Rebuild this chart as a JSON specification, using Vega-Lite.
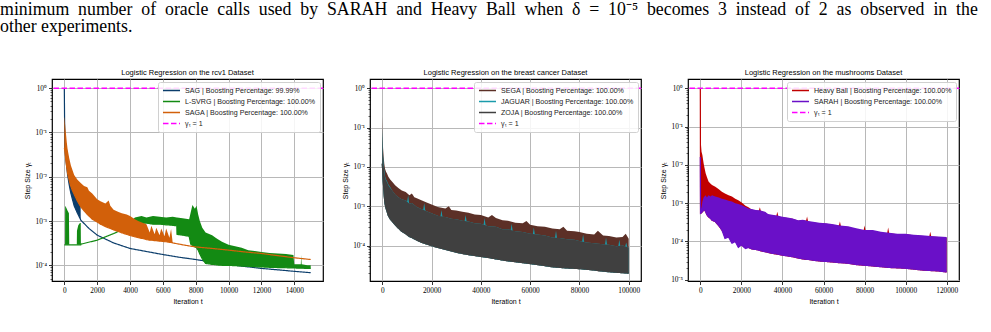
{
"$schema": "https://vega.github.io/schema/vega-lite/v6.json",
"background": "white",
"padding": {"left": 0, "top": 1, "right": 0, "bottom": 0},
"autosize": {"type": "pad"},
"title": {"text": ["minimum \u00a0number \u00a0of \u00a0oracle \u00a0calls \u00a0used \u00a0by \u00a0SARAH \u00a0and \u00a0Heavy \u00a0Ball \u00a0when \u00a0δ \u00a0= \u00a010⁻⁵ \u00a0becomes \u00a03 \u00a0instead \u00a0of \u00a02 \u00a0as \u00a0observed \u00a0in \u00a0the", "other experiments."], "anchor": "start", "frame": "bounds", "font": "Liberation Serif", "fontSize": 17.8, "lineHeight": 17, "fontWeight": "normal", "color": "#000", "offset": 32, "dx": -23},
"spacing": 16,
"resolve": {"scale": {"stroke": "independent", "strokeDash": "independent"}, "legend": {"stroke": "independent", "strokeDash": "independent"}},
"datasets": {
"p1": [
{"s":"SAG","t":0,"lo":1,"hi":1},{"s":"SAG","t":30,"lo":0.05,"hi":0.3},{"s":"SAG","t":60,"lo":0.035,"hi":0.08},{"s":"SAG","t":100,"lo":0.024,"hi":0.06},{"s":"SAG","t":200,"lo":0.011,"hi":0.035},{"s":"SAG","t":300,"lo":0.0065,"hi":0.02},{"s":"SAG","t":400,"lo":0.0042,"hi":0.014},{"s":"SAG","t":600,"lo":0.0022,"hi":0.008},{"s":"SAG","t":800,"lo":0.0015,"hi":0.005},{"s":"SAG","t":990,"lo":0.00108,"hi":0.0035},{"s":"SAG","t":1000,"lo":0.00105,"hi":0.00105},{"s":"SAG","t":1500,"lo":0.00068,"hi":0.00068},{"s":"SAG","t":2000,"lo":0.00048,"hi":0.00048},{"s":"SAG","t":3000,"lo":0.00032,"hi":0.00032},{"s":"SAG","t":4000,"lo":0.00024,"hi":0.00024},{"s":"SAG","t":5000,"lo":0.000205,"hi":0.000205},{"s":"SAG","t":6000,"lo":0.000175,"hi":0.000175},{"s":"SAG","t":7000,"lo":0.000152,"hi":0.000152},{"s":"SAG","t":8000,"lo":0.000135,"hi":0.000135},{"s":"SAG","t":9000,"lo":0.000118,"hi":0.000118},{"s":"SAG","t":10000,"lo":0.000104,"hi":0.000104},{"s":"SAG","t":11000,"lo":0.000094,"hi":0.000094},{"s":"SAG","t":12000,"lo":0.000085,"hi":0.000085},{"s":"SAG","t":13000,"lo":0.000079,"hi":0.000079},{"s":"SAG","t":14000,"lo":0.000073,"hi":0.000073},{"s":"SAG","t":15000,"lo":0.000068,"hi":0.000068},
{"s":"L-SVRG","t":0,"lo":0.00029,"hi":0.00029},{"s":"L-SVRG","t":45,"lo":0.00029,"hi":0.00029},{"s":"L-SVRG","t":50,"lo":0.00029,"hi":0.0022},{"s":"L-SVRG","t":120,"lo":0.00029,"hi":0.002},{"s":"L-SVRG","t":200,"lo":0.00029,"hi":0.0017},{"s":"L-SVRG","t":280,"lo":0.00029,"hi":0.0015},{"s":"L-SVRG","t":300,"lo":0.00029,"hi":0.00029},{"s":"L-SVRG","t":760,"lo":0.00029,"hi":0.00029},{"s":"L-SVRG","t":770,"lo":0.00029,"hi":0.0006},{"s":"L-SVRG","t":850,"lo":0.00029,"hi":0.0008},{"s":"L-SVRG","t":950,"lo":0.00029,"hi":0.0009},{"s":"L-SVRG","t":1000,"lo":0.00029,"hi":0.0009},{"s":"L-SVRG","t":1010,"lo":0.0003,"hi":0.0003},{"s":"L-SVRG","t":2000,"lo":0.00037,"hi":0.00037},{"s":"L-SVRG","t":3000,"lo":0.00052,"hi":0.00052},{"s":"L-SVRG","t":3700,"lo":0.00068,"hi":0.0007},{"s":"L-SVRG","t":4000,"lo":0.00078,"hi":0.00095},{"s":"L-SVRG","t":4300,"lo":0.00085,"hi":0.0012},{"s":"L-SVRG","t":4700,"lo":0.00088,"hi":0.0013},{"s":"L-SVRG","t":5000,"lo":0.0009,"hi":0.0012},{"s":"L-SVRG","t":5400,"lo":0.00085,"hi":0.0013},{"s":"L-SVRG","t":5800,"lo":0.00085,"hi":0.00125},{"s":"L-SVRG","t":6200,"lo":0.00082,"hi":0.0012},{"s":"L-SVRG","t":6600,"lo":0.0008,"hi":0.00125},{"s":"L-SVRG","t":6850,"lo":0.00078,"hi":0.0012},{"s":"L-SVRG","t":6860,"lo":0.0005,"hi":0.0012},{"s":"L-SVRG","t":7200,"lo":0.00048,"hi":0.00115},{"s":"L-SVRG","t":7600,"lo":0.00045,"hi":0.0011},{"s":"L-SVRG","t":7700,"lo":0.0003,"hi":0.0016},{"s":"L-SVRG","t":7800,"lo":0.00028,"hi":0.0023},{"s":"L-SVRG","t":7950,"lo":0.00026,"hi":0.0019},{"s":"L-SVRG","t":8050,"lo":0.00025,"hi":0.0022},{"s":"L-SVRG","t":8150,"lo":0.00022,"hi":0.0014},{"s":"L-SVRG","t":8250,"lo":0.00018,"hi":0.001},{"s":"L-SVRG","t":8400,"lo":0.00014,"hi":0.0007},{"s":"L-SVRG","t":8600,"lo":0.00011,"hi":0.00055},{"s":"L-SVRG","t":9000,"lo":0.000105,"hi":0.00048},{"s":"L-SVRG","t":9300,"lo":0.000102,"hi":0.0004},{"s":"L-SVRG","t":9600,"lo":0.0001,"hi":0.00034},{"s":"L-SVRG","t":10000,"lo":0.0001,"hi":0.00029},{"s":"L-SVRG","t":10400,"lo":0.000098,"hi":0.00027},{"s":"L-SVRG","t":10800,"lo":0.000096,"hi":0.00025},{"s":"L-SVRG","t":11200,"lo":0.000095,"hi":0.00022},{"s":"L-SVRG","t":11600,"lo":0.000093,"hi":0.00021},{"s":"L-SVRG","t":12000,"lo":0.000092,"hi":0.0002},{"s":"L-SVRG","t":12500,"lo":0.00009,"hi":0.00019},{"s":"L-SVRG","t":13000,"lo":0.000089,"hi":0.000185},{"s":"L-SVRG","t":13500,"lo":0.000088,"hi":0.00018},{"s":"L-SVRG","t":13950,"lo":0.000087,"hi":0.00017},{"s":"L-SVRG","t":14000,"lo":0.000087,"hi":0.000105},{"s":"L-SVRG","t":14400,"lo":0.000086,"hi":0.000105},{"s":"L-SVRG","t":14420,"lo":0.000086,"hi":0.00017},{"s":"L-SVRG","t":14450,"lo":0.000086,"hi":0.000105},{"s":"L-SVRG","t":14800,"lo":0.000085,"hi":0.0001},{"s":"L-SVRG","t":15000,"lo":0.000085,"hi":0.0001},
{"s":"SAGA","t":0,"lo":0.045,"hi":0.23},{"s":"SAGA","t":20,"lo":0.042,"hi":0.2},{"s":"SAGA","t":60,"lo":0.03,"hi":0.13},{"s":"SAGA","t":100,"lo":0.022,"hi":0.095},{"s":"SAGA","t":150,"lo":0.016,"hi":0.06},{"s":"SAGA","t":200,"lo":0.012,"hi":0.042},{"s":"SAGA","t":300,"lo":0.0082,"hi":0.026},{"s":"SAGA","t":400,"lo":0.006,"hi":0.018},{"s":"SAGA","t":500,"lo":0.0048,"hi":0.014},{"s":"SAGA","t":600,"lo":0.004,"hi":0.011},{"s":"SAGA","t":800,"lo":0.0028,"hi":0.0085},{"s":"SAGA","t":1000,"lo":0.0021,"hi":0.0072},{"s":"SAGA","t":1200,"lo":0.0017,"hi":0.0062},{"s":"SAGA","t":1400,"lo":0.0014,"hi":0.0058},{"s":"SAGA","t":1500,"lo":0.0013,"hi":0.0048},{"s":"SAGA","t":1700,"lo":0.0011,"hi":0.0042},{"s":"SAGA","t":2000,"lo":0.00095,"hi":0.0031},{"s":"SAGA","t":2200,"lo":0.00085,"hi":0.0028},{"s":"SAGA","t":2500,"lo":0.00075,"hi":0.0025},{"s":"SAGA","t":2700,"lo":0.0007,"hi":0.0029},{"s":"SAGA","t":2800,"lo":0.00068,"hi":0.0022},{"s":"SAGA","t":3000,"lo":0.00063,"hi":0.0018},{"s":"SAGA","t":3300,"lo":0.00058,"hi":0.0016},{"s":"SAGA","t":3500,"lo":0.00054,"hi":0.0015},{"s":"SAGA","t":3800,"lo":0.0005,"hi":0.0014},{"s":"SAGA","t":4000,"lo":0.00047,"hi":0.0013},{"s":"SAGA","t":4300,"lo":0.00044,"hi":0.0011},{"s":"SAGA","t":4500,"lo":0.00042,"hi":0.001},{"s":"SAGA","t":4800,"lo":0.0004,"hi":0.0009},{"s":"SAGA","t":5000,"lo":0.00038,"hi":0.00085},{"s":"SAGA","t":5200,"lo":0.00037,"hi":0.00055},{"s":"SAGA","t":5300,"lo":0.00037,"hi":0.00078},{"s":"SAGA","t":5500,"lo":0.00036,"hi":0.0005},{"s":"SAGA","t":5600,"lo":0.00036,"hi":0.0007},{"s":"SAGA","t":5800,"lo":0.00035,"hi":0.00048},{"s":"SAGA","t":5900,"lo":0.00035,"hi":0.00068},{"s":"SAGA","t":6100,"lo":0.00034,"hi":0.00045},{"s":"SAGA","t":6200,"lo":0.00034,"hi":0.00068},{"s":"SAGA","t":6400,"lo":0.00033,"hi":0.00042},{"s":"SAGA","t":6500,"lo":0.00033,"hi":0.00066},{"s":"SAGA","t":6600,"lo":0.00032,"hi":0.00032},{"s":"SAGA","t":7000,"lo":0.0003,"hi":0.0003},{"s":"SAGA","t":7500,"lo":0.000278,"hi":0.000278},{"s":"SAGA","t":8000,"lo":0.00026,"hi":0.00026},{"s":"SAGA","t":9000,"lo":0.00024,"hi":0.00024},{"s":"SAGA","t":10000,"lo":0.00022,"hi":0.00022},{"s":"SAGA","t":11000,"lo":0.0002,"hi":0.0002},{"s":"SAGA","t":12000,"lo":0.000185,"hi":0.000185},{"s":"SAGA","t":13000,"lo":0.000165,"hi":0.000165},{"s":"SAGA","t":14000,"lo":0.000148,"hi":0.000148},{"s":"SAGA","t":15000,"lo":0.000135,"hi":0.000135}
],
"p2": [
{"s":"SEGA","t":0,"lo":0.012,"hi":0.19},{"s":"SEGA","t":150,"lo":0.008,"hi":0.07},{"s":"SEGA","t":300,"lo":0.005,"hi":0.03},{"s":"SEGA","t":550,"lo":0.0031,"hi":0.018},{"s":"SEGA","t":800,"lo":0.0018,"hi":0.012},{"s":"SEGA","t":1100,"lo":0.00117,"hi":0.009},{"s":"SEGA","t":1500,"lo":0.0009,"hi":0.0075},{"s":"SEGA","t":1900,"lo":0.00075,"hi":0.0068},{"s":"SEGA","t":2450,"lo":0.00058,"hi":0.0056},{"s":"SEGA","t":3200,"lo":0.00048,"hi":0.0048},{"s":"SEGA","t":4000,"lo":0.00042,"hi":0.0042},{"s":"SEGA","t":5200,"lo":0.00034,"hi":0.0034},{"s":"SEGA","t":6500,"lo":0.00028,"hi":0.0029},{"s":"SEGA","t":7900,"lo":0.00023,"hi":0.0025},{"s":"SEGA","t":9500,"lo":0.0002,"hi":0.0023},{"s":"SEGA","t":11000,"lo":0.00017,"hi":0.0019},{"s":"SEGA","t":12000,"lo":0.00016,"hi":0.0021},{"s":"SEGA","t":13000,"lo":0.00015,"hi":0.0017},{"s":"SEGA","t":14000,"lo":0.000138,"hi":0.0016},{"s":"SEGA","t":16100,"lo":0.00012,"hi":0.0014},{"s":"SEGA","t":18000,"lo":0.00011,"hi":0.00125},{"s":"SEGA","t":20000,"lo":0.0001,"hi":0.0011},{"s":"SEGA","t":22500,"lo":0.00009,"hi":0.00095},{"s":"SEGA","t":25600,"lo":0.00008,"hi":0.00088},{"s":"SEGA","t":27000,"lo":0.000076,"hi":0.001},{"s":"SEGA","t":28000,"lo":0.000073,"hi":0.0008},{"s":"SEGA","t":30000,"lo":0.000068,"hi":0.00078},{"s":"SEGA","t":32500,"lo":0.000063,"hi":0.00072},{"s":"SEGA","t":35000,"lo":0.000059,"hi":0.00068},{"s":"SEGA","t":37500,"lo":0.000056,"hi":0.00062},{"s":"SEGA","t":40000,"lo":0.000053,"hi":0.0006},{"s":"SEGA","t":43000,"lo":0.00005,"hi":0.00052},{"s":"SEGA","t":44500,"lo":0.000048,"hi":0.0006},{"s":"SEGA","t":46100,"lo":0.000046,"hi":0.0005},{"s":"SEGA","t":48800,"lo":0.000043,"hi":0.00044},{"s":"SEGA","t":51000,"lo":0.000041,"hi":0.00043},{"s":"SEGA","t":54000,"lo":0.000039,"hi":0.00038},{"s":"SEGA","t":57000,"lo":0.000037,"hi":0.00037},{"s":"SEGA","t":58500,"lo":0.000036,"hi":0.00042},{"s":"SEGA","t":60000,"lo":0.000035,"hi":0.00034},{"s":"SEGA","t":63000,"lo":0.000033,"hi":0.00031},{"s":"SEGA","t":66000,"lo":0.000031,"hi":0.0003},{"s":"SEGA","t":69000,"lo":0.000029,"hi":0.00027},{"s":"SEGA","t":72000,"lo":0.000028,"hi":0.00026},{"s":"SEGA","t":73500,"lo":0.0000275,"hi":0.0003},{"s":"SEGA","t":75000,"lo":0.000027,"hi":0.00024},{"s":"SEGA","t":78000,"lo":0.0000265,"hi":0.00023},{"s":"SEGA","t":80000,"lo":0.000026,"hi":0.00022},{"s":"SEGA","t":83000,"lo":0.000025,"hi":0.0002},{"s":"SEGA","t":86000,"lo":0.000024,"hi":0.00019},{"s":"SEGA","t":87500,"lo":0.000023,"hi":0.00024},{"s":"SEGA","t":89600,"lo":0.0000225,"hi":0.00018},{"s":"SEGA","t":92000,"lo":0.0000218,"hi":0.000175},{"s":"SEGA","t":95000,"lo":0.000021,"hi":0.00016},{"s":"SEGA","t":97500,"lo":0.0000205,"hi":0.000165},{"s":"SEGA","t":98800,"lo":0.0000202,"hi":0.0002},{"s":"SEGA","t":100000,"lo":0.00002,"hi":0.00015},
{"s":"JAGUAR","t":0,"lo":0.012,"hi":0.1},{"s":"JAGUAR","t":150,"lo":0.008,"hi":0.045},{"s":"JAGUAR","t":300,"lo":0.005,"hi":0.02},{"s":"JAGUAR","t":550,"lo":0.0031,"hi":0.012},{"s":"JAGUAR","t":800,"lo":0.0018,"hi":0.0085},{"s":"JAGUAR","t":1100,"lo":0.00117,"hi":0.0058},{"s":"JAGUAR","t":1500,"lo":0.0009,"hi":0.0048},{"s":"JAGUAR","t":1900,"lo":0.00075,"hi":0.0044},{"s":"JAGUAR","t":2450,"lo":0.00058,"hi":0.0036},{"s":"JAGUAR","t":3200,"lo":0.00048,"hi":0.0031},{"s":"JAGUAR","t":4000,"lo":0.00042,"hi":0.0025},{"s":"JAGUAR","t":5200,"lo":0.00034,"hi":0.002},{"s":"JAGUAR","t":6500,"lo":0.00028,"hi":0.0017},{"s":"JAGUAR","t":7900,"lo":0.00023,"hi":0.0015},{"s":"JAGUAR","t":9500,"lo":0.0002,"hi":0.0014},{"s":"JAGUAR","t":10100,"lo":0.00019,"hi":0.00133},{"s":"JAGUAR","t":10500,"lo":0.00018,"hi":0.0019},{"s":"JAGUAR","t":10900,"lo":0.00017,"hi":0.00118},{"s":"JAGUAR","t":11000,"lo":0.00017,"hi":0.00115},{"s":"JAGUAR","t":12000,"lo":0.00016,"hi":0.0012},{"s":"JAGUAR","t":14000,"lo":0.000138,"hi":0.00096},{"s":"JAGUAR","t":16100,"lo":0.00012,"hi":0.00084},{"s":"JAGUAR","t":16600,"lo":0.000118,"hi":0.00082},{"s":"JAGUAR","t":17000,"lo":0.000115,"hi":0.0012},{"s":"JAGUAR","t":17400,"lo":0.000113,"hi":0.00079},{"s":"JAGUAR","t":18000,"lo":0.00011,"hi":0.00075},{"s":"JAGUAR","t":20000,"lo":0.0001,"hi":0.00066},{"s":"JAGUAR","t":22500,"lo":0.00009,"hi":0.00057},{"s":"JAGUAR","t":23600,"lo":0.000087,"hi":0.00055},{"s":"JAGUAR","t":24000,"lo":0.000085,"hi":0.0008},{"s":"JAGUAR","t":24400,"lo":0.000084,"hi":0.00054},{"s":"JAGUAR","t":25600,"lo":0.00008,"hi":0.00053},{"s":"JAGUAR","t":28000,"lo":0.000073,"hi":0.00048},{"s":"JAGUAR","t":30000,"lo":0.000068,"hi":0.00047},{"s":"JAGUAR","t":32500,"lo":0.000063,"hi":0.00043},{"s":"JAGUAR","t":33400,"lo":0.000062,"hi":0.00042},{"s":"JAGUAR","t":33800,"lo":0.000061,"hi":0.0006},{"s":"JAGUAR","t":34200,"lo":0.00006,"hi":0.00042},{"s":"JAGUAR","t":35000,"lo":0.000059,"hi":0.00041},{"s":"JAGUAR","t":37500,"lo":0.000056,"hi":0.00037},{"s":"JAGUAR","t":40000,"lo":0.000053,"hi":0.00036},{"s":"JAGUAR","t":41100,"lo":0.000052,"hi":0.00034},{"s":"JAGUAR","t":41500,"lo":0.000051,"hi":0.0005},{"s":"JAGUAR","t":41900,"lo":0.000051,"hi":0.00033},{"s":"JAGUAR","t":43000,"lo":0.00005,"hi":0.00031},{"s":"JAGUAR","t":46100,"lo":0.000046,"hi":0.0003},{"s":"JAGUAR","t":48800,"lo":0.000043,"hi":0.00026},{"s":"JAGUAR","t":51000,"lo":0.000041,"hi":0.00026},{"s":"JAGUAR","t":52100,"lo":0.00004,"hi":0.00025},{"s":"JAGUAR","t":52500,"lo":0.00004,"hi":0.00036},{"s":"JAGUAR","t":52900,"lo":0.00004,"hi":0.00024},{"s":"JAGUAR","t":54000,"lo":0.000039,"hi":0.00023},{"s":"JAGUAR","t":57000,"lo":0.000037,"hi":0.00022},{"s":"JAGUAR","t":60000,"lo":0.000035,"hi":0.0002},{"s":"JAGUAR","t":61100,"lo":0.000034,"hi":0.000197},{"s":"JAGUAR","t":61500,"lo":0.000034,"hi":0.00029},{"s":"JAGUAR","t":61900,"lo":0.000034,"hi":0.000193},{"s":"JAGUAR","t":63000,"lo":0.000033,"hi":0.00019},{"s":"JAGUAR","t":66000,"lo":0.000031,"hi":0.00018},{"s":"JAGUAR","t":69000,"lo":0.000029,"hi":0.00016},{"s":"JAGUAR","t":70100,"lo":0.0000287,"hi":0.000158},{"s":"JAGUAR","t":70500,"lo":0.0000285,"hi":0.00024},{"s":"JAGUAR","t":70900,"lo":0.0000283,"hi":0.000157},{"s":"JAGUAR","t":72000,"lo":0.000028,"hi":0.000155},{"s":"JAGUAR","t":75000,"lo":0.000027,"hi":0.000145},{"s":"JAGUAR","t":78000,"lo":0.0000265,"hi":0.00014},{"s":"JAGUAR","t":80000,"lo":0.000026,"hi":0.00013},{"s":"JAGUAR","t":81100,"lo":0.0000257,"hi":0.000127},{"s":"JAGUAR","t":81500,"lo":0.0000255,"hi":0.00019},{"s":"JAGUAR","t":81900,"lo":0.0000253,"hi":0.000125},{"s":"JAGUAR","t":83000,"lo":0.000025,"hi":0.00012},{"s":"JAGUAR","t":86000,"lo":0.000024,"hi":0.000115},{"s":"JAGUAR","t":89600,"lo":0.0000225,"hi":0.000108},{"s":"JAGUAR","t":90400,"lo":0.0000222,"hi":0.000107},{"s":"JAGUAR","t":90800,"lo":0.000022,"hi":0.00016},{"s":"JAGUAR","t":91200,"lo":0.0000219,"hi":0.000106},{"s":"JAGUAR","t":92000,"lo":0.0000218,"hi":0.000105},{"s":"JAGUAR","t":95000,"lo":0.000021,"hi":0.000096},{"s":"JAGUAR","t":95800,"lo":0.0000209,"hi":0.000097},{"s":"JAGUAR","t":96200,"lo":0.0000208,"hi":0.00014},{"s":"JAGUAR","t":96600,"lo":0.0000207,"hi":0.000098},{"s":"JAGUAR","t":97500,"lo":0.0000205,"hi":0.0001},{"s":"JAGUAR","t":98600,"lo":0.0000203,"hi":0.000096},{"s":"JAGUAR","t":99000,"lo":0.0000202,"hi":0.00012},{"s":"JAGUAR","t":99400,"lo":0.0000201,"hi":0.000093},{"s":"JAGUAR","t":100000,"lo":0.00002,"hi":0.00009},
{"s":"ZOJA","t":0,"lo":0.012,"hi":0.06},{"s":"ZOJA","t":150,"lo":0.008,"hi":0.035},{"s":"ZOJA","t":300,"lo":0.005,"hi":0.016},{"s":"ZOJA","t":550,"lo":0.0031,"hi":0.0105},{"s":"ZOJA","t":800,"lo":0.0018,"hi":0.0072},{"s":"ZOJA","t":1100,"lo":0.00117,"hi":0.0054},{"s":"ZOJA","t":1500,"lo":0.0009,"hi":0.0045},{"s":"ZOJA","t":1900,"lo":0.00075,"hi":0.0041},{"s":"ZOJA","t":2450,"lo":0.00058,"hi":0.0034},{"s":"ZOJA","t":3200,"lo":0.00048,"hi":0.0029},{"s":"ZOJA","t":4000,"lo":0.00042,"hi":0.0025},{"s":"ZOJA","t":5200,"lo":0.00034,"hi":0.002},{"s":"ZOJA","t":6500,"lo":0.00028,"hi":0.0017},{"s":"ZOJA","t":7900,"lo":0.00023,"hi":0.0015},{"s":"ZOJA","t":9500,"lo":0.0002,"hi":0.0014},{"s":"ZOJA","t":11000,"lo":0.00017,"hi":0.00115},{"s":"ZOJA","t":12000,"lo":0.00016,"hi":0.0012},{"s":"ZOJA","t":14000,"lo":0.000138,"hi":0.00096},{"s":"ZOJA","t":16100,"lo":0.00012,"hi":0.00084},{"s":"ZOJA","t":18000,"lo":0.00011,"hi":0.00075},{"s":"ZOJA","t":20000,"lo":0.0001,"hi":0.00066},{"s":"ZOJA","t":22500,"lo":0.00009,"hi":0.00057},{"s":"ZOJA","t":25600,"lo":0.00008,"hi":0.00053},{"s":"ZOJA","t":28000,"lo":0.000073,"hi":0.00048},{"s":"ZOJA","t":30000,"lo":0.000068,"hi":0.00047},{"s":"ZOJA","t":32500,"lo":0.000063,"hi":0.00043},{"s":"ZOJA","t":35000,"lo":0.000059,"hi":0.00041},{"s":"ZOJA","t":37500,"lo":0.000056,"hi":0.00037},{"s":"ZOJA","t":40000,"lo":0.000053,"hi":0.00036},{"s":"ZOJA","t":43000,"lo":0.00005,"hi":0.00031},{"s":"ZOJA","t":46100,"lo":0.000046,"hi":0.0003},{"s":"ZOJA","t":48800,"lo":0.000043,"hi":0.00026},{"s":"ZOJA","t":51000,"lo":0.000041,"hi":0.00026},{"s":"ZOJA","t":54000,"lo":0.000039,"hi":0.00023},{"s":"ZOJA","t":57000,"lo":0.000037,"hi":0.00022},{"s":"ZOJA","t":60000,"lo":0.000035,"hi":0.0002},{"s":"ZOJA","t":63000,"lo":0.000033,"hi":0.00019},{"s":"ZOJA","t":66000,"lo":0.000031,"hi":0.00018},{"s":"ZOJA","t":69000,"lo":0.000029,"hi":0.00016},{"s":"ZOJA","t":72000,"lo":0.000028,"hi":0.000155},{"s":"ZOJA","t":75000,"lo":0.000027,"hi":0.000145},{"s":"ZOJA","t":78000,"lo":0.0000265,"hi":0.00014},{"s":"ZOJA","t":80000,"lo":0.000026,"hi":0.00013},{"s":"ZOJA","t":83000,"lo":0.000025,"hi":0.00012},{"s":"ZOJA","t":86000,"lo":0.000024,"hi":0.000115},{"s":"ZOJA","t":89600,"lo":0.0000225,"hi":0.000108},{"s":"ZOJA","t":92000,"lo":0.0000218,"hi":0.000105},{"s":"ZOJA","t":95000,"lo":0.000021,"hi":0.000096},{"s":"ZOJA","t":97500,"lo":0.0000205,"hi":0.0001},{"s":"ZOJA","t":100000,"lo":0.00002,"hi":0.00009}
],
"p3": [
{"s":"Heavy Ball","t":0,"lo":1,"hi":1},{"s":"Heavy Ball","t":100,"lo":0.00055,"hi":0.1},{"s":"Heavy Ball","t":300,"lo":0.00055,"hi":0.035},{"s":"Heavy Ball","t":600,"lo":0.00056,"hi":0.022},{"s":"Heavy Ball","t":1000,"lo":0.0006,"hi":0.018},{"s":"Heavy Ball","t":1600,"lo":0.00065,"hi":0.011},{"s":"Heavy Ball","t":2000,"lo":0.00068,"hi":0.0085},{"s":"Heavy Ball","t":2600,"lo":0.0006,"hi":0.006},{"s":"Heavy Ball","t":3200,"lo":0.0005,"hi":0.0048},{"s":"Heavy Ball","t":4000,"lo":0.00044,"hi":0.0037},{"s":"Heavy Ball","t":5000,"lo":0.0004,"hi":0.0032},{"s":"Heavy Ball","t":5700,"lo":0.00036,"hi":0.003},{"s":"Heavy Ball","t":7300,"lo":0.00033,"hi":0.0027},{"s":"Heavy Ball","t":9000,"lo":0.00026,"hi":0.0023},{"s":"Heavy Ball","t":10500,"lo":0.0002,"hi":0.002},{"s":"Heavy Ball","t":12000,"lo":0.00015,"hi":0.0018},{"s":"Heavy Ball","t":13760,"lo":0.00013,"hi":0.0016},{"s":"Heavy Ball","t":15400,"lo":0.00011,"hi":0.0015},{"s":"Heavy Ball","t":17000,"lo":0.0001,"hi":0.0013},{"s":"Heavy Ball","t":18500,"lo":0.00009,"hi":0.0012},{"s":"Heavy Ball","t":20000,"lo":0.000081,"hi":0.00105},{"s":"Heavy Ball","t":22000,"lo":0.00007,"hi":0.00085},{"s":"Heavy Ball","t":23460,"lo":0.00007,"hi":0.00078},{"s":"Heavy Ball","t":25000,"lo":0.000064,"hi":0.00068},{"s":"Heavy Ball","t":27000,"lo":0.000062,"hi":0.00064},{"s":"Heavy Ball","t":28500,"lo":0.00006,"hi":0.00063},{"s":"Heavy Ball","t":29000,"lo":0.000058,"hi":0.00078},{"s":"Heavy Ball","t":29500,"lo":0.000057,"hi":0.00062},{"s":"Heavy Ball","t":31550,"lo":0.000054,"hi":0.00058},{"s":"Heavy Ball","t":33000,"lo":0.000052,"hi":0.0005},{"s":"Heavy Ball","t":35000,"lo":0.000049,"hi":0.00048},{"s":"Heavy Ball","t":37000,"lo":0.000047,"hi":0.00046},{"s":"Heavy Ball","t":37500,"lo":0.000047,"hi":0.0006},{"s":"Heavy Ball","t":38000,"lo":0.000046,"hi":0.00045},{"s":"Heavy Ball","t":40000,"lo":0.000044,"hi":0.00043},{"s":"Heavy Ball","t":42500,"lo":0.000042,"hi":0.00041},{"s":"Heavy Ball","t":45000,"lo":0.00004,"hi":0.00039},{"s":"Heavy Ball","t":47700,"lo":0.000037,"hi":0.00035},{"s":"Heavy Ball","t":50000,"lo":0.000035,"hi":0.00036},{"s":"Heavy Ball","t":51500,"lo":0.000034,"hi":0.00035},{"s":"Heavy Ball","t":52000,"lo":0.000034,"hi":0.00045},{"s":"Heavy Ball","t":52500,"lo":0.000034,"hi":0.00033},{"s":"Heavy Ball","t":55800,"lo":0.000032,"hi":0.00031},{"s":"Heavy Ball","t":58000,"lo":0.000031,"hi":0.0003},{"s":"Heavy Ball","t":61500,"lo":0.00003,"hi":0.00029},{"s":"Heavy Ball","t":65000,"lo":0.000029,"hi":0.00027},{"s":"Heavy Ball","t":67500,"lo":0.000028,"hi":0.00026},{"s":"Heavy Ball","t":68000,"lo":0.000028,"hi":0.00033},{"s":"Heavy Ball","t":68500,"lo":0.000028,"hi":0.00025},{"s":"Heavy Ball","t":72000,"lo":0.000027,"hi":0.00024},{"s":"Heavy Ball","t":76000,"lo":0.000025,"hi":0.00021},{"s":"Heavy Ball","t":79500,"lo":0.000024,"hi":0.00019},{"s":"Heavy Ball","t":80000,"lo":0.000024,"hi":0.00026},{"s":"Heavy Ball","t":80500,"lo":0.000024,"hi":0.00019},{"s":"Heavy Ball","t":84000,"lo":0.000023,"hi":0.00019},{"s":"Heavy Ball","t":88000,"lo":0.000022,"hi":0.00017},{"s":"Heavy Ball","t":91000,"lo":0.0000212,"hi":0.000165},{"s":"Heavy Ball","t":91500,"lo":0.0000211,"hi":0.00023},{"s":"Heavy Ball","t":92000,"lo":0.000021,"hi":0.000165},{"s":"Heavy Ball","t":96000,"lo":0.0000205,"hi":0.000155},{"s":"Heavy Ball","t":100000,"lo":0.00002,"hi":0.000155},{"s":"Heavy Ball","t":104000,"lo":0.000019,"hi":0.000145},{"s":"Heavy Ball","t":108000,"lo":0.000018,"hi":0.00014},{"s":"Heavy Ball","t":111500,"lo":0.0000176,"hi":0.000135},{"s":"Heavy Ball","t":112000,"lo":0.0000175,"hi":0.00018},{"s":"Heavy Ball","t":112500,"lo":0.0000174,"hi":0.000135},{"s":"Heavy Ball","t":116000,"lo":0.000017,"hi":0.00013},{"s":"Heavy Ball","t":120000,"lo":0.000016,"hi":0.000125},
{"s":"SARAH","t":0,"lo":0.016,"hi":0.016},{"s":"SARAH","t":100,"lo":0.00054,"hi":0.0006},{"s":"SARAH","t":300,"lo":0.00055,"hi":0.0007},{"s":"SARAH","t":600,"lo":0.00056,"hi":0.0008},{"s":"SARAH","t":1000,"lo":0.0006,"hi":0.0011},{"s":"SARAH","t":1600,"lo":0.00065,"hi":0.0014},{"s":"SARAH","t":2000,"lo":0.00068,"hi":0.0015},{"s":"SARAH","t":2600,"lo":0.0006,"hi":0.0016},{"s":"SARAH","t":3200,"lo":0.0005,"hi":0.0014},{"s":"SARAH","t":4000,"lo":0.00044,"hi":0.0016},{"s":"SARAH","t":5000,"lo":0.0004,"hi":0.0015},{"s":"SARAH","t":5700,"lo":0.00036,"hi":0.0016},{"s":"SARAH","t":7300,"lo":0.00033,"hi":0.0015},{"s":"SARAH","t":9000,"lo":0.00026,"hi":0.0014},{"s":"SARAH","t":10500,"lo":0.0002,"hi":0.0013},{"s":"SARAH","t":12000,"lo":0.00012,"hi":0.00125},{"s":"SARAH","t":13760,"lo":0.00013,"hi":0.00115},{"s":"SARAH","t":15400,"lo":0.00009,"hi":0.0011},{"s":"SARAH","t":17000,"lo":0.0001,"hi":0.001},{"s":"SARAH","t":18500,"lo":0.00007,"hi":0.00095},{"s":"SARAH","t":20000,"lo":0.000081,"hi":0.0009},{"s":"SARAH","t":22000,"lo":0.000065,"hi":0.0008},{"s":"SARAH","t":23460,"lo":0.00007,"hi":0.00073},{"s":"SARAH","t":25000,"lo":0.000064,"hi":0.0007},{"s":"SARAH","t":27000,"lo":0.000062,"hi":0.00066},{"s":"SARAH","t":29000,"lo":0.000058,"hi":0.00065},{"s":"SARAH","t":31550,"lo":0.000054,"hi":0.0006},{"s":"SARAH","t":33000,"lo":0.000052,"hi":0.00052},{"s":"SARAH","t":35000,"lo":0.000049,"hi":0.0005},{"s":"SARAH","t":37500,"lo":0.000047,"hi":0.00048},{"s":"SARAH","t":40000,"lo":0.000044,"hi":0.00044},{"s":"SARAH","t":42500,"lo":0.000042,"hi":0.00042},{"s":"SARAH","t":45000,"lo":0.00004,"hi":0.0004},{"s":"SARAH","t":47700,"lo":0.000037,"hi":0.00036},{"s":"SARAH","t":50000,"lo":0.000035,"hi":0.00037},{"s":"SARAH","t":52500,"lo":0.000034,"hi":0.00034},{"s":"SARAH","t":55800,"lo":0.000032,"hi":0.00032},{"s":"SARAH","t":58000,"lo":0.000031,"hi":0.00031},{"s":"SARAH","t":61500,"lo":0.00003,"hi":0.0003},{"s":"SARAH","t":65000,"lo":0.000029,"hi":0.00028},{"s":"SARAH","t":68000,"lo":0.000028,"hi":0.00026},{"s":"SARAH","t":72000,"lo":0.000027,"hi":0.00025},{"s":"SARAH","t":76000,"lo":0.000025,"hi":0.00022},{"s":"SARAH","t":80000,"lo":0.000024,"hi":0.0002},{"s":"SARAH","t":84000,"lo":0.000023,"hi":0.0002},{"s":"SARAH","t":88000,"lo":0.000022,"hi":0.00018},{"s":"SARAH","t":92000,"lo":0.000021,"hi":0.00017},{"s":"SARAH","t":96000,"lo":0.0000205,"hi":0.00016},{"s":"SARAH","t":100000,"lo":0.00002,"hi":0.00016},{"s":"SARAH","t":104000,"lo":0.000019,"hi":0.00015},{"s":"SARAH","t":108000,"lo":0.000018,"hi":0.000145},{"s":"SARAH","t":112000,"lo":0.0000175,"hi":0.00014},{"s":"SARAH","t":116000,"lo":0.000017,"hi":0.000135},{"s":"SARAH","t":120000,"lo":0.000016,"hi":0.00013}
],
"g": [{"s":"γₜ = 1","v":1}]
},
"hconcat": [
{
"width": 271, "height": 202,
"title": "Logistic Regression on the rcv1 Dataset",
"data": {"name": "p1"},
"resolve": {"axis": {"y": "independent"}},
"layer": [
{"transform":[{"filter":"datum.s=='SAG'"}],"mark":{"type":"area","color":"#0b3d6b"},
 "encoding":{
  "x":{"field":"t","type":"quantitative","scale":{"domain":[-750,15750],"nice":false,"zero":false},"axis":{"values":[0,2000,4000,6000,8000,10000,12000,14000],"tickCount":100,"format":"d","title":"Iteration t"}},
  "y":{"field":"lo","type":"quantitative","scale":{"type":"log","domain":[0.0000442,1.61],"nice":false},"axis":{"values":[1,0.1,0.01,0.001,0.0001],"tickCount":100,"labelExpr":"'10' + (datum.value < 0.9 ? '⁻' : '') + ['⁰','¹','²','³','⁴','⁵'][round(-log(datum.value)/LN10)]","title":"Step Size γₜ","orient":"left"}},
  "y2":{"field":"hi"}}},
{"transform":[{"filter":"datum.s=='SAG'"}],"mark":{"type":"line","strokeWidth":1.2},
 "encoding":{"x":{"field":"t","type":"quantitative"},"y":{"field":"lo","type":"quantitative","axis":null},
  "stroke":{"field":"s","type":"nominal","scale":{"domain":["SAG","L-SVRG","SAGA","γₜ = 1"],"range":["#0b3d6b","#138a13","#d2600a","#ff00ff"]},"legend":{"orient":"top-right","offset":3,"title":null,"labelExpr":"datum.label == 'γₜ = 1' ? datum.label : datum.label + ' | Boosting Percentage: ' + (datum.label == 'SAG' ? '99.99%' : '100.00%')"}},
  "strokeDash":{"field":"s","type":"nominal","scale":{"domain":["SAG","L-SVRG","SAGA","γₜ = 1"],"range":[[1,0],[1,0],[1,0],[5.5,2.5]]},"legend":{"orient":"top-right","offset":3,"title":null,"labelExpr":"datum.label == 'γₜ = 1' ? datum.label : datum.label + ' | Boosting Percentage: ' + (datum.label == 'SAG' ? '99.99%' : '100.00%')"}}}},
{"transform":[{"filter":"datum.s=='L-SVRG'"}],"mark":{"type":"area","color":"#138a13"},
 "encoding":{"x":{"field":"t","type":"quantitative"},"y":{"field":"lo","type":"quantitative","axis":null},"y2":{"field":"hi"}}},
{"transform":[{"filter":"datum.s=='L-SVRG'"}],"mark":{"type":"line","strokeWidth":1.2},
 "encoding":{"x":{"field":"t","type":"quantitative"},"y":{"field":"lo","type":"quantitative","axis":null},"stroke":{"field":"s","type":"nominal"},"strokeDash":{"field":"s","type":"nominal"}}},
{"transform":[{"filter":"datum.s=='SAGA'"}],"mark":{"type":"area","color":"#d2600a"},
 "encoding":{"x":{"field":"t","type":"quantitative"},"y":{"field":"lo","type":"quantitative","axis":null},"y2":{"field":"hi"}}},
{"transform":[{"filter":"datum.s=='SAGA'"}],"mark":{"type":"line","strokeWidth":1.2},
 "encoding":{"x":{"field":"t","type":"quantitative"},"y":{"field":"lo","type":"quantitative","axis":null},"stroke":{"field":"s","type":"nominal"},"strokeDash":{"field":"s","type":"nominal"}}},
{"data":{"name":"g"},"mark":{"type":"rule","strokeWidth":1.5},
 "encoding":{"y":{"field":"v","type":"quantitative","axis":{"orient":"left","tickCount":100,"values":[0.00005,0.00006,0.00007,0.00008,0.00009,0.0002,0.0003,0.0004,0.0005,0.0006,0.0007,0.0008,0.0009,0.002,0.003,0.004,0.005,0.006,0.007,0.008,0.009,0.02,0.03,0.04,0.05,0.06,0.07,0.08,0.09,0.2,0.3,0.4,0.5,0.6,0.7,0.8,0.9],"labels":false,"grid":false,"domain":false,"tickSize":2,"tickWidth":0.6,"title":null}},"stroke":{"field":"s","type":"nominal"},"strokeDash":{"field":"s","type":"nominal"}}}
]
},
{
"width": 271, "height": 202,
"title": "Logistic Regression on the breast cancer Dataset",
"data": {"name": "p2"},
"resolve": {"axis": {"y": "independent"}},
"layer": [
{"transform":[{"filter":"datum.s=='SEGA'"}],"mark":{"type":"area","color":"#5c3027"},
 "encoding":{
  "x":{"field":"t","type":"quantitative","scale":{"domain":[-5000,105000],"nice":false,"zero":false},"axis":{"values":[0,20000,40000,60000,80000,100000],"tickCount":100,"format":"d","title":"Iteration t"}},
  "y":{"field":"lo","type":"quantitative","scale":{"type":"log","domain":[0.0000126,1.71],"nice":false},"axis":{"values":[1,0.1,0.01,0.001,0.0001],"tickCount":100,"labelExpr":"'10' + (datum.value < 0.9 ? '⁻' : '') + ['⁰','¹','²','³','⁴','⁵'][round(-log(datum.value)/LN10)]","title":"Step Size γₜ","orient":"left"}},
  "y2":{"field":"hi"}}},
{"transform":[{"filter":"datum.s=='SEGA'"}],"mark":{"type":"line","strokeWidth":1.2},
 "encoding":{"x":{"field":"t","type":"quantitative"},"y":{"field":"lo","type":"quantitative","axis":null},
  "stroke":{"field":"s","type":"nominal","scale":{"domain":["SEGA","JAGUAR","ZOJA","γₜ = 1"],"range":["#5c3027","#1a9bab","#404040","#ff00ff"]},"legend":{"orient":"top-right","offset":3,"title":null,"labelExpr":"datum.label == 'γₜ = 1' ? datum.label : datum.label + ' | Boosting Percentage: 100.00%'"}},
  "strokeDash":{"field":"s","type":"nominal","scale":{"domain":["SEGA","JAGUAR","ZOJA","γₜ = 1"],"range":[[1,0],[1,0],[1,0],[5.5,2.5]]},"legend":{"orient":"top-right","offset":3,"title":null,"labelExpr":"datum.label == 'γₜ = 1' ? datum.label : datum.label + ' | Boosting Percentage: 100.00%'"}}}},
{"transform":[{"filter":"datum.s=='JAGUAR'"}],"mark":{"type":"area","color":"#1a9bab"},
 "encoding":{"x":{"field":"t","type":"quantitative"},"y":{"field":"lo","type":"quantitative","axis":null},"y2":{"field":"hi"}}},
{"transform":[{"filter":"datum.s=='JAGUAR'"}],"mark":{"type":"line","strokeWidth":1.2},
 "encoding":{"x":{"field":"t","type":"quantitative"},"y":{"field":"lo","type":"quantitative","axis":null},"stroke":{"field":"s","type":"nominal"},"strokeDash":{"field":"s","type":"nominal"}}},
{"transform":[{"filter":"datum.s=='ZOJA'"}],"mark":{"type":"area","color":"#404040"},
 "encoding":{"x":{"field":"t","type":"quantitative"},"y":{"field":"lo","type":"quantitative","axis":null},"y2":{"field":"hi"}}},
{"transform":[{"filter":"datum.s=='ZOJA'"}],"mark":{"type":"line","strokeWidth":1.2},
 "encoding":{"x":{"field":"t","type":"quantitative"},"y":{"field":"lo","type":"quantitative","axis":null},"stroke":{"field":"s","type":"nominal"},"strokeDash":{"field":"s","type":"nominal"}}},
{"data":{"name":"g"},"mark":{"type":"rule","strokeWidth":1.5},
 "encoding":{"y":{"field":"v","type":"quantitative","axis":{"orient":"left","tickCount":100,"values":[0.00002,0.00003,0.00004,0.00005,0.00006,0.00007,0.00008,0.00009,0.0002,0.0003,0.0004,0.0005,0.0006,0.0007,0.0008,0.0009,0.002,0.003,0.004,0.005,0.006,0.007,0.008,0.009,0.02,0.03,0.04,0.05,0.06,0.07,0.08,0.09,0.2,0.3,0.4,0.5,0.6,0.7,0.8,0.9],"labels":false,"grid":false,"domain":false,"tickSize":2,"tickWidth":0.6,"title":null}},"stroke":{"field":"s","type":"nominal"},"strokeDash":{"field":"s","type":"nominal"}}}
]
},
{
"width": 271, "height": 202,
"title": "Logistic Regression on the mushrooms Dataset",
"data": {"name": "p3"},
"resolve": {"axis": {"y": "independent"}},
"layer": [
{"transform":[{"filter":"datum.s=='Heavy Ball'"}],"mark":{"type":"area","color":"#c00000"},
 "encoding":{
  "x":{"field":"t","type":"quantitative","scale":{"domain":[-6000,126000],"nice":false,"zero":false},"axis":{"values":[0,20000,40000,60000,80000,100000,120000],"tickCount":100,"format":"d","title":"Iteration t"}},
  "y":{"field":"lo","type":"quantitative","scale":{"type":"log","domain":[0.0000093,1.74],"nice":false},"axis":{"values":[1,0.1,0.01,0.001,0.0001,0.00001],"tickCount":100,"labelExpr":"'10' + (datum.value < 0.9 ? '⁻' : '') + ['⁰','¹','²','³','⁴','⁵'][round(-log(datum.value)/LN10)]","title":"Step Size γₜ","orient":"left"}},
  "y2":{"field":"hi"}}},
{"transform":[{"filter":"datum.s=='Heavy Ball'"}],"mark":{"type":"line","strokeWidth":1.2},
 "encoding":{"x":{"field":"t","type":"quantitative"},"y":{"field":"lo","type":"quantitative","axis":null},
  "stroke":{"field":"s","type":"nominal","scale":{"domain":["Heavy Ball","SARAH","γₜ = 1"],"range":["#c00000","#6a10c8","#ff00ff"]},"legend":{"orient":"top-right","offset":3,"title":null,"labelExpr":"datum.label == 'γₜ = 1' ? datum.label : datum.label + ' | Boosting Percentage: 100.00%'"}},
  "strokeDash":{"field":"s","type":"nominal","scale":{"domain":["Heavy Ball","SARAH","γₜ = 1"],"range":[[1,0],[1,0],[5.5,2.5]]},"legend":{"orient":"top-right","offset":3,"title":null,"labelExpr":"datum.label == 'γₜ = 1' ? datum.label : datum.label + ' | Boosting Percentage: 100.00%'"}}}},
{"transform":[{"filter":"datum.s=='SARAH'"}],"mark":{"type":"area","color":"#6a10c8"},
 "encoding":{"x":{"field":"t","type":"quantitative"},"y":{"field":"lo","type":"quantitative","axis":null},"y2":{"field":"hi"}}},
{"transform":[{"filter":"datum.s=='SARAH'"}],"mark":{"type":"line","strokeWidth":1.2},
 "encoding":{"x":{"field":"t","type":"quantitative"},"y":{"field":"lo","type":"quantitative","axis":null},"stroke":{"field":"s","type":"nominal"},"strokeDash":{"field":"s","type":"nominal"}}},
{"data":{"name":"g"},"mark":{"type":"rule","strokeWidth":1.5},
 "encoding":{"y":{"field":"v","type":"quantitative","axis":{"orient":"left","tickCount":100,"values":[0.00002,0.00003,0.00004,0.00005,0.00006,0.00007,0.00008,0.00009,0.0002,0.0003,0.0004,0.0005,0.0006,0.0007,0.0008,0.0009,0.002,0.003,0.004,0.005,0.006,0.007,0.008,0.009,0.02,0.03,0.04,0.05,0.06,0.07,0.08,0.09,0.2,0.3,0.4,0.5,0.6,0.7,0.8,0.9],"labels":false,"grid":false,"domain":false,"tickSize":2,"tickWidth":0.6,"title":null}},"stroke":{"field":"s","type":"nominal"},"strokeDash":{"field":"s","type":"nominal"}}}
]
}
],
"config": {
 "view": {"stroke": "#000", "strokeWidth": 1.2},
 "axis": {"grid": true, "gridColor": "#b8b8b8", "gridWidth": 1, "domain": false, "tickColor": "#000", "tickSize": 3.5, "tickWidth": 0.8, "labelFont": "Liberation Serif", "labelFontSize": 7.3, "labelColor": "#000", "labelPadding": 2, "labelOverlap": false, "titleFont": "Liberation Sans", "titleFontSize": 7, "titleFontWeight": "normal", "titleColor": "#000", "titlePadding": 4},
 "title": {"font": "Liberation Sans", "fontSize": 7.5, "fontWeight": "normal", "color": "#000", "offset": 3, "anchor": "middle", "frame": "group"},
 "legend": {"symbolType": "stroke", "symbolSize": 290, "symbolStrokeWidth": 1.5, "clipHeight": 9, "rowPadding": 2, "labelFont": "Liberation Sans", "labelFontSize": 7.1, "labelColor": "#222", "labelOffset": 4, "labelLimit": 400, "padding": 4, "strokeColor": "#d0d0d0", "fillColor": "rgba(255,255,255,0.85)", "cornerRadius": 2}
}
}
